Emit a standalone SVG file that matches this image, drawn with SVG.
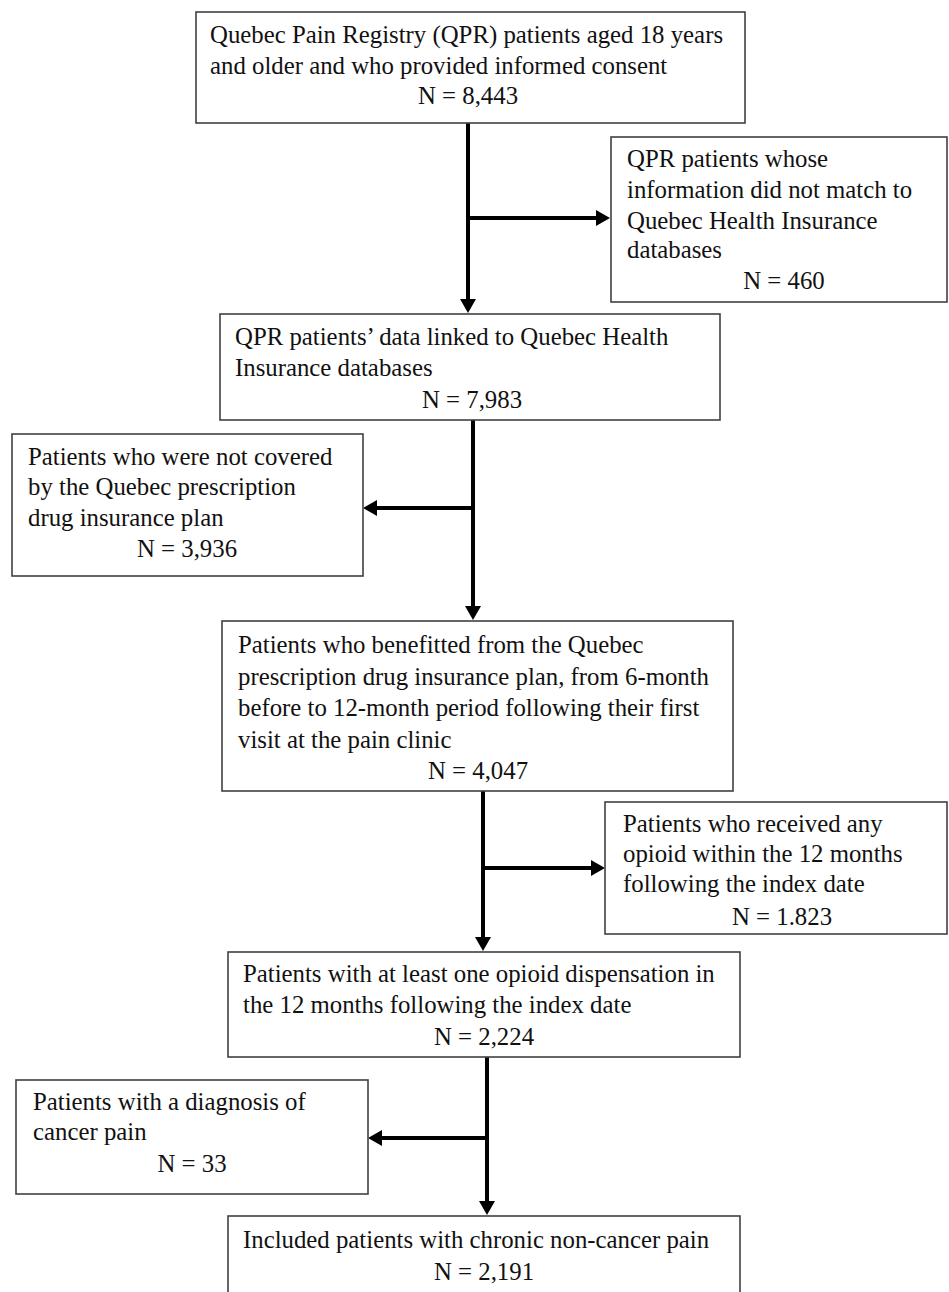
<svg xmlns="http://www.w3.org/2000/svg" width="949" height="1292" viewBox="0 0 949 1292">
<style>
.box{fill:#fff;stroke:#404040;stroke-width:1.6}
.t{font-family:"Liberation Serif","Times New Roman",serif;font-size:24.8px;fill:#111}
.c{text-anchor:middle}
.ln{stroke:#000;stroke-width:4;fill:none;marker-end:url(#ah)}
</style>
<defs>
<marker id="ah" markerUnits="userSpaceOnUse" markerWidth="15" markerHeight="16" refX="3" refY="8" orient="auto">
<path d="M0,0 L14,8 L0,16 Z" fill="#000"/>
</marker>
</defs>
<rect width="949" height="1292" fill="#fff"/>
<g id="connectors">
<line class="ln" x1="468" y1="123" x2="468" y2="302"/>
<line class="ln" x1="468" y1="218" x2="599" y2="218"/>
<line class="ln" x1="473" y1="420" x2="473" y2="609"/>
<line class="ln" x1="473" y1="508" x2="374" y2="508"/>
<line class="ln" x1="483" y1="791" x2="483" y2="940"/>
<line class="ln" x1="483" y1="868" x2="594" y2="868"/>
<line class="ln" x1="487" y1="1057" x2="487" y2="1204"/>
<line class="ln" x1="487" y1="1138" x2="379" y2="1138"/>
</g>
<g id="n1">
<rect class="box" x="196" y="12" width="549" height="111"/>
<text class="t" x="210" y="43">Quebec Pain Registry (QPR) patients aged 18 years</text>
<text class="t" x="210" y="74">and older and who provided informed consent</text>
<text class="t c" x="468" y="104">N = 8,443</text>
</g>
<g id="n2">
<rect class="box" x="611" y="137" width="336" height="165"/>
<text class="t" x="627" y="167">QPR patients whose</text>
<text class="t" x="627" y="198">information did not match to</text>
<text class="t" x="627" y="229">Quebec Health Insurance</text>
<text class="t" x="627" y="258">databases</text>
<text class="t c" x="784" y="289">N = 460</text>
</g>
<g id="n3">
<rect class="box" x="220" y="314" width="500" height="106"/>
<text class="t" x="235" y="345">QPR patients’ data linked to Quebec Health</text>
<text class="t" x="235" y="376">Insurance databases</text>
<text class="t c" x="472" y="408">N = 7,983</text>
</g>
<g id="n4">
<rect class="box" x="12" y="434" width="351" height="142"/>
<text class="t" x="28" y="465">Patients who were not covered</text>
<text class="t" x="28" y="495">by the Quebec prescription</text>
<text class="t" x="28" y="526">drug insurance plan</text>
<text class="t c" x="187" y="557">N = 3,936</text>
</g>
<g id="n5">
<rect class="box" x="222" y="621" width="511" height="170"/>
<text class="t" x="238" y="653">Patients who benefitted from the Quebec</text>
<text class="t" x="238" y="685">prescription drug insurance plan, from 6-month</text>
<text class="t" x="238" y="716">before to 12-month period following their first</text>
<text class="t" x="238" y="748">visit at the pain clinic</text>
<text class="t c" x="478" y="779">N = 4,047</text>
</g>
<g id="n6">
<rect class="box" x="605" y="802" width="342" height="132"/>
<text class="t" x="623" y="832">Patients who received any</text>
<text class="t" x="623" y="862">opioid within the 12 months</text>
<text class="t" x="623" y="892">following the index date</text>
<text class="t c" x="782" y="925">N = 1.823</text>
</g>
<g id="n7">
<rect class="box" x="228" y="952" width="512" height="105"/>
<text class="t" x="243" y="982">Patients with at least one opioid dispensation in</text>
<text class="t" x="243" y="1013">the 12 months following the index date</text>
<text class="t c" x="484" y="1045">N = 2,224</text>
</g>
<g id="n8">
<rect class="box" x="16" y="1080" width="352" height="114"/>
<text class="t" x="33" y="1110">Patients with a diagnosis of</text>
<text class="t" x="33" y="1140">cancer pain</text>
<text class="t c" x="192" y="1172">N = 33</text>
</g>
<g id="n9">
<rect class="box" x="228" y="1216" width="512" height="100"/>
<text class="t" x="243" y="1248">Included patients with chronic non-cancer pain</text>
<text class="t c" x="484" y="1280">N = 2,191</text>
</g>
</svg>
